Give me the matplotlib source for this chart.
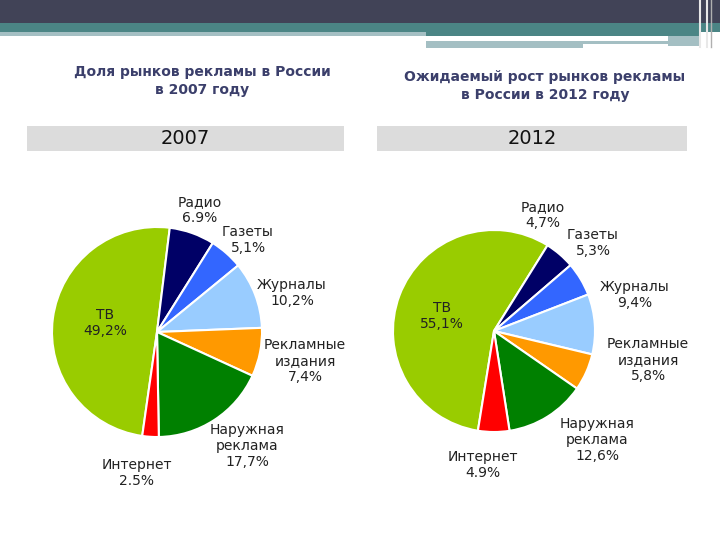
import matplotlib
matplotlib.use('Agg')
import matplotlib.pyplot as plt
from matplotlib.patches import Rectangle

plt.rcParams['font.family'] = ['DejaVu Sans']

# данные
categories = ['ТВ', 'Радио', 'Газеты', 'Журналы', 'Рекламные\nиздания',
              'Наружная\nреклама', 'Интернет']
values_2007 = [49.2, 6.9, 5.1, 10.2, 7.4, 17.7, 2.5]
labels_2007 = ['49,2%', '6.9%', '5,1%', '10,2%', '7,4%', '17,7%', '2.5%']
values_2012 = [55.1, 4.7, 5.3, 9.4, 5.8, 12.6, 4.9]
labels_2012 = ['55,1%', '4,7%', '5,3%', '9,4%', '5,8%', '12,6%', '4.9%']
colors = ['#99cc00', '#000066', '#3366ff', '#99ccff', '#ff9900', '#008000', '#ff0000']

W, H = 720, 540
fig = plt.figure(figsize=(7.2, 5.4), dpi=100)
ax = fig.add_axes([0, 0, 1, 1])
ax.set_xlim(0, W)
ax.set_ylim(0, H)
ax.set_aspect('equal')
ax.axis('off')


def Y(y):
    return H - y


def rect(x0, y0, x1, y1, c):
    ax.add_patch(Rectangle((x0, Y(y1)), x1 - x0, y1 - y0, color=c, lw=0))


# шапка слайда
rect(0, 0, 720, 23, '#414357')
rect(0, 23, 720, 32, '#4b8585')
rect(0, 32, 426, 36, '#a4bfc3')
rect(426, 32, 700, 36, '#4b8585')
rect(426, 41, 668, 44, '#a4bfc3')
rect(426, 44, 583, 48, '#a4bfc3')
rect(668, 36, 700, 46, '#a4bfc3')
for xv in [700, 707]:
    ax.plot([xv, xv], [Y(0), Y(47)], color='#e8e8e8', lw=1.5)
ax.plot([711, 711], [Y(0), Y(47)], color='#b0b0b0', lw=1)

# заголовки
title_color = '#3b3f6b'
ax.text(202, Y(81), 'Доля рынков рекламы в России\nв 2007 году', ha='center', va='center',
        fontsize=10, fontweight='bold', color=title_color, linespacing=1.3)
ax.text(545, Y(86), 'Ожидаемый рост рынков рекламы\nв России в 2012 году', ha='center',
        va='center', fontsize=10, fontweight='bold', color=title_color, linespacing=1.3)

# серые плашки с годами
rect(27, 126, 344, 151, '#dcdcdc')
rect(377, 126, 687, 151, '#dcdcdc')
ax.text(185, Y(139), '2007', ha='center', va='center', fontsize=14, color='#111111')
ax.text(532, Y(139), '2012', ha='center', va='center', fontsize=14, color='#111111')

# круговые диаграммы (start = граница ТВ / Радио)
pies = [
    (values_2007, labels_2007, (157, 332), 105, 83,
     [(105, 323), (200, 210), (248, 240), (292, 293), (305, 361), (247, 446), (137, 473)]),
    (values_2012, labels_2012, (494, 331), 101, 58,
     [(442, 316), (543, 215), (593, 243), (635, 295), (648, 360), (597, 440), (483, 465)]),
]

for vals, pct, (cx, cy), r, start, pos in pies:
    tv_angle = 360 * vals[0] / sum(vals)
    ax.pie(vals, colors=colors, center=(cx, Y(cy)), radius=r, startangle=start + tv_angle,
           counterclock=False, wedgeprops=dict(edgecolor='white', linewidth=1.5),
           frame=True)
    for name, p, (lx, ly) in zip(categories, pct, pos):
        ax.text(lx, Y(ly), name + '\n' + p, ha='center', va='center', fontsize=10,
                color='#222222', linespacing=1.2)

ax.set_xlim(0, W)
ax.set_ylim(0, H)
ax.axis('off')

fig.savefig('out.png', dpi=100)
